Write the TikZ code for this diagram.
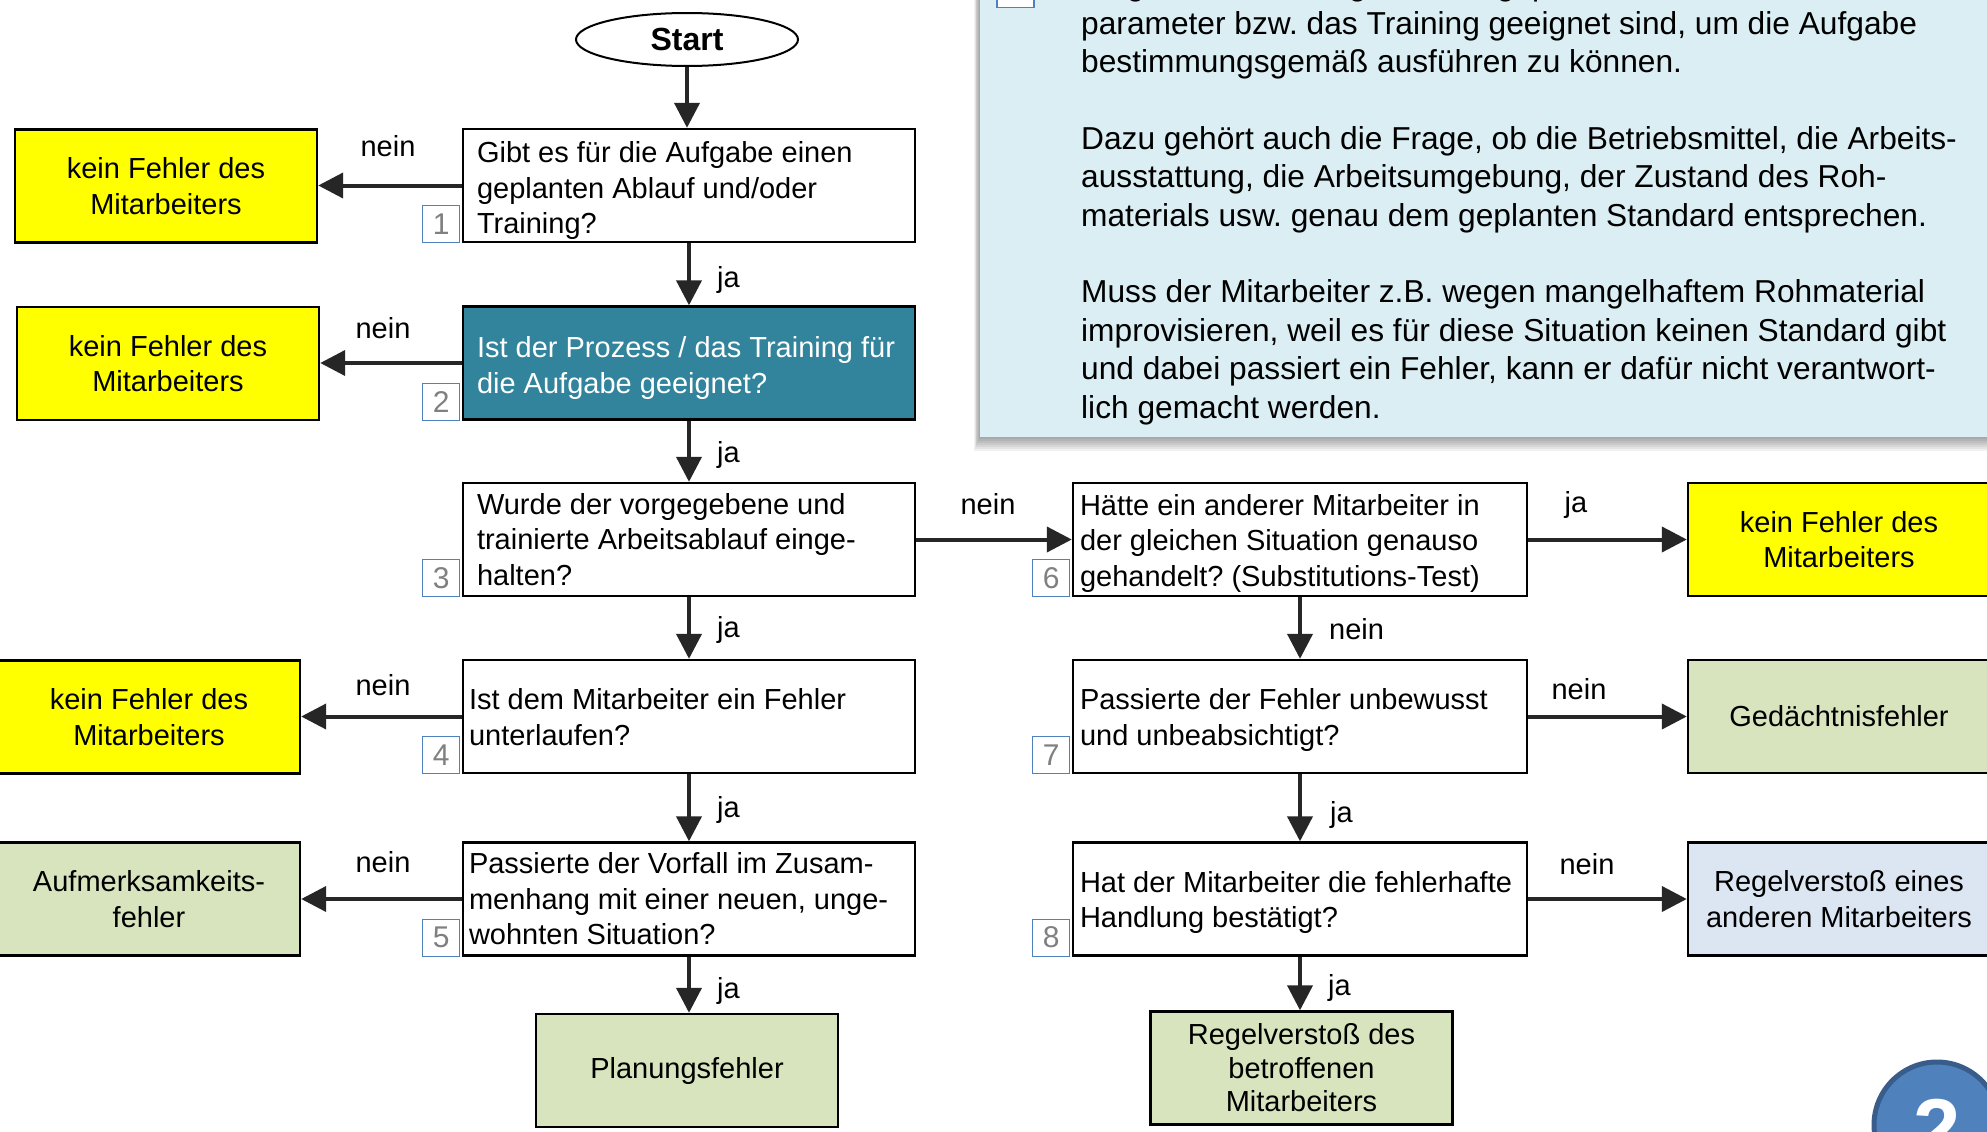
\documentclass[tikz,border=0pt]{standalone}
\usepackage{fontspec}
\setmainfont{Liberation Sans}
\usetikzlibrary{arrows.meta,shapes.geometric}

\definecolor{arrowgray}{HTML}{262626}
\definecolor{tealbox}{HTML}{31849B}
\definecolor{okyellow}{HTML}{FFFF00}
\definecolor{errgreen}{HTML}{D7E4BD}
\definecolor{errblue}{HTML}{DCE6F2}
\definecolor{notebg}{HTML}{DAEEF3}
\definecolor{numblue}{HTML}{4F81BD}
\definecolor{numgray}{HTML}{808080}
\definecolor{badgefill}{HTML}{4F81BD}
\definecolor{badgeline}{HTML}{385D8A}

\newcommand{\boxfont}{\fontsize{29}{35.5}\selectfont}
\newcommand{\notefont}{\fontsize{31.7}{38.4}\selectfont}
\frenchspacing

\begin{document}
\begin{tikzpicture}[x=1pt,y=-1pt,
  dbox/.style={draw=black, line width=2.4pt, fill=white, minimum width=452pt,
    minimum height=113pt, inner sep=0pt},
  rbox/.style={draw=black, line width=2.4pt, minimum width=302pt,
    minimum height=113pt, inner sep=0pt, align=center, font=\boxfont},
  btext/.style={font=\boxfont, align=left, inner sep=0pt, anchor=west, yshift=-3pt},
  numbox/.style={draw=numblue, line width=1.2pt, fill=white, minimum size=37pt,
    inner sep=0pt, text=numgray, font=\fontsize{30}{30}\selectfont,
    anchor=south east, xshift=-1.5pt},
  arr/.style={draw=arrowgray, line width=4pt, -{Triangle[length=25pt, width=25pt]}},
  lbl/.style={font=\boxfont, inner sep=0pt, text height=15pt, text depth=0pt},
]
\clip (0,0) rectangle (1987,1132);
\fill[white] (0,0) rectangle (1987,1132);

% explanation panel with its soft shadow
\foreach \d in {2,4,6,8,10,12,14}
  \fill[black, opacity=0.055] (980-\d*0.45, -60) rectangle (2010, 437+\d);
\fill[notebg] (980,-60) rectangle (2010,437);
\node[numbox, anchor=center, xshift=0pt] (n0) at (1017,-11) {2};
\node[font=\notefont, align=left, anchor=north west, inner sep=0pt] (note) at (1081,-31.3)
 {\strut Es geht um die Frage, ob die geplanten Abläufe, Prozess-\\
  parameter bzw. das Training geeignet sind, um die Aufgabe\\
  bestimmungsgemäß ausführen zu können.\\[38.4pt]
  Dazu gehört auch die Frage, ob die Betriebsmittel, die Arbeits-\\
  ausstattung, die Arbeitsumgebung, der Zustand des Roh-\\
  materials usw. genau dem geplanten Standard entsprechen.\\[38.4pt]
  Muss der Mitarbeiter z.B. wegen mangelhaftem Rohmaterial\\
  improvisieren, weil es für diese Situation keinen Standard gibt\\
  und dabei passiert ein Fehler, kann er dafür nicht verantwort-\\
  lich gemacht werden.};

% start
\node[ellipse, draw=black, line width=2pt, fill=white, minimum width=222pt,
  minimum height=53pt, inner sep=0pt, font=\bfseries\fontsize{32}{38}\selectfont]
  (start) at (687,39.5) {Start};

% decision boxes, left column
\node[dbox] (b1) at (689,185.5) {};
\node[dbox, fill=tealbox] (b2) at (689,363) {};
\node[dbox] (b3) at (689,539.5) {};
\node[dbox] (b4) at (689,716.5) {};
\node[dbox] (b5) at (689,899) {};
% decision boxes, right column
\node[dbox, minimum width=454pt] (b6) at (1300,539.5) {};
\node[dbox, minimum width=454pt] (b7) at (1300,716.5) {};
\node[dbox, minimum width=454pt] (b8) at (1300,899) {};

\node[btext, yshift=-2.5pt] (t1) at ([xshift=15pt]b1.west) {\strut Gibt es für die Aufgabe einen\\geplanten Ablauf und/oder\\Training?\strut};
\node[btext, text=white, yshift=-2.5pt] (t2) at ([xshift=15pt]b2.west) {\strut Ist der Prozess / das Training für\\die Aufgabe geeignet?\strut};
\node[btext] (t3) at ([xshift=15pt]b3.west) {\strut Wurde der vorgegebene und\\trainierte Arbeitsablauf einge-\\halten?\strut};
\node[btext, yshift=-1pt] (t4) at ([xshift=7pt]b4.west) {\strut Ist dem Mitarbeiter ein Fehler\\unterlaufen?\strut};
\node[btext] (t5) at ([xshift=7pt]b5.west) {\strut Passierte der Vorfall im Zusam-\\menhang mit einer neuen, unge-\\wohnten Situation?\strut};
\node[btext, yshift=-1pt] (t6) at ([xshift=8pt]b6.west) {\strut Hätte ein anderer Mitarbeiter in\\der gleichen Situation genauso\\gehandelt? (Substitutions-Test)\strut};
\node[btext, yshift=-1pt] (t7) at ([xshift=8pt]b7.west) {\strut Passierte der Fehler unbewusst\\und unbeabsichtigt?\strut};
\node[btext, yshift=-1pt] (t8) at ([xshift=8pt]b8.west) {\strut Hat der Mitarbeiter die fehlerhafte\\Handlung bestätigt?\strut};

% step numbers
\node[numbox] (n1) at (b1.south west) {1};
\node[numbox] (n2) at (b2.south west) {2};
\node[numbox] (n3) at (b3.south west) {3};
\node[numbox] (n4) at (b4.south west) {4};
\node[numbox] (n5) at (b5.south west) {5};
\node[numbox] (n6) at (b6.south west) {6};
\node[numbox] (n7) at (b7.south west) {7};
\node[numbox] (n8) at (b8.south west) {8};

% outcomes
\node[rbox, fill=okyellow] (k1) at (166,186) {kein Fehler des\\Mitarbeiters};
\node[rbox, fill=okyellow] (k2) at (168,363.5) {kein Fehler des\\Mitarbeiters};
\node[rbox, fill=okyellow] (k4) at (149,717) {kein Fehler des\\Mitarbeiters};
\node[rbox, fill=errgreen] (aufm) at (149,899) {Aufmerksamkeits-\\fehler};
\node[rbox, fill=errgreen] (plan) at (687,1070.5) {Planungsfehler};
\node[rbox, fill=okyellow] (k6) at (1839,539.5) {kein Fehler des\\Mitarbeiters};
\node[rbox, fill=errgreen] (ged) at (1839,716.5) {Gedächtnisfehler};
\node[rbox, fill=errblue] (rege) at (1839,899) {Regelverstoß eines\\anderen Mitarbeiters};
\node[rbox, fill=errgreen, font=\fontsize{29}{33.5}\selectfont] (regb) at (1301.5,1068)
  {Regelverstoß des\\betroffenen\\Mitarbeiters};

% connectors
\draw[arr] (start.south) -- (start.south |- b1.north);
\draw[arr] (b1) -- (b2);
\draw[arr] (b2) -- (b3);
\draw[arr] (b3) -- (b4);
\draw[arr] (b4) -- (b5);
\draw[arr] (b5.south) -- (b5.south |- plan.north);
\draw[arr] (b6) -- (b7);
\draw[arr] (b7) -- (b8);
\draw[arr] (b8.south) -- (b8.south |- regb.north);
\draw[arr] (b1.west) -- (b1.west -| k1.east);
\draw[arr] (b2.west) -- (b2.west -| k2.east);
\draw[arr] (b4.west) -- (b4.west -| k4.east);
\draw[arr] (b5.west) -- (b5.west -| aufm.east);
\draw[arr] (b3.east) -- (b3.east -| b6.west);
\draw[arr] (b6.east) -- (b6.east -| k6.west);
\draw[arr] (b7.east) -- (b7.east -| ged.west);
\draw[arr] (b8.east) -- (b8.east -| rege.west);

% connector labels
\node[lbl] (l1) at (388,148.5) {nein};
\node[lbl] (l2) at (383,330.5) {nein};
\node[lbl] (l4) at (383,688) {nein};
\node[lbl] (l5) at (383,865) {nein};
\node[lbl] (l36) at (988,506.6) {nein};
\node[lbl] (l6k) at (1576,505) {ja};
\node[lbl] (l7g) at (1579,692) {nein};
\node[lbl] (l8r) at (1587,866.5) {nein};
\node[lbl, anchor=west] (l12) at (717,280) {ja};
\node[lbl, anchor=west] (l23) at (717,455) {ja};
\node[lbl, anchor=west] (l34) at (717,629.5) {ja};
\node[lbl, anchor=west] (l45) at (717,810) {ja};
\node[lbl, anchor=west] (l5p) at (717,991) {ja};
\node[lbl, anchor=west] (l67) at (1329,632) {nein};
\node[lbl, anchor=west] (l78) at (1330,815) {ja};
\node[lbl, anchor=west] (l8b) at (1328,988) {ja};

% page badge
\node[circle, fill=badgefill, draw=badgeline, line width=5pt, minimum size=126pt,
  inner sep=0pt] (badge) at (1937,1125) {};
\node[text=white, font=\bfseries\fontsize{85}{85}\selectfont, anchor=base, inner sep=0pt]
  (badgenum) at (1937,1158) {2};
\end{tikzpicture}
\end{document}
